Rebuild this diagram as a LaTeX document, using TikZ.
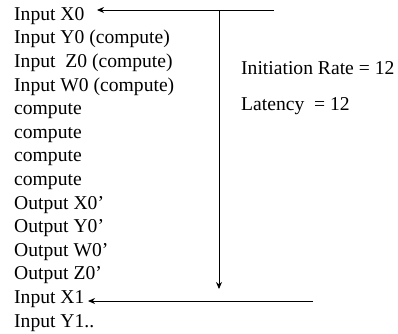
\documentclass[tikz,border=0pt]{standalone}
\usepackage{fontspec}
\setmainfont{Liberation Serif}
\usetikzlibrary{arrows.meta}
\begin{document}
\begin{tikzpicture}[x=1pt,y=-1pt,
  txt/.style={anchor=base west,inner sep=0pt,font=\fontsize{19.6}{23}\selectfont},
  conn/.style={line width=0.9pt,-{Stealth[length=7pt,width=6pt]}}]
\useasboundingbox (0,0) rectangle (398,333);
% schedule listing, one line per cycle
\foreach \t [count=\i] in {Input X0,Input Y0 (compute),Input\ \ Z0 (compute),
    Input W0 (compute),compute,compute,compute,compute,
    Output X0’,Output Y0’,Output W0’,Output Z0’,Input X1,Input Y1..}
  \node[txt] (l\i) at (14,{20.3+23.6*(\i-1)}) {\t};
% annotations
\node[txt] (ir)  at (241,74)  {Initiation Rate = 12};
\node[txt] (lat) at (241,110) {Latency\ \ = 12};
% arrows
\coordinate (tr) at (274,10);
\coordinate (tl) at (97,10);
\coordinate (vt) at (219,10);
\coordinate (vb) at (219,289);
\coordinate (br) at (313,301);
\coordinate (bl) at (88,301);
\draw[conn] (tr) -- (tl);
\draw[conn] (vt) -- (vb);
\draw[conn] (br) -- (bl);
\end{tikzpicture}
\end{document}
